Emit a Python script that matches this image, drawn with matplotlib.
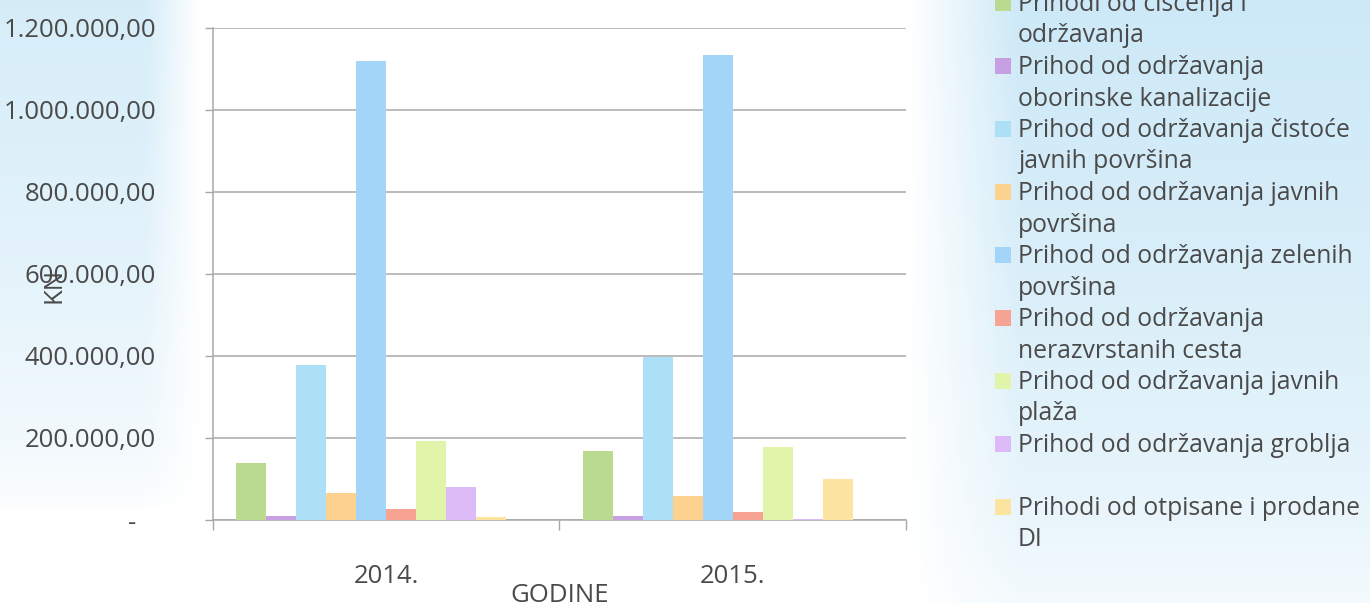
import numpy as np
import matplotlib.pyplot as plt
from matplotlib.patches import Rectangle
from matplotlib.ticker import FuncFormatter, FixedLocator

plt.rcParams['font.family'] = ['Open Sans', 'DejaVu Sans']

# data (kn)
years = ['2014.', '2015.']
series_names = [
    'Prihodi od čišćenja i\nodržavanja',
    'Prihod od održavanja\noborinske kanalizacije',
    'Prihod od održavanja čistoće\njavnih površina',
    'Prihod od održavanja javnih\npovršina',
    'Prihod od održavanja zelenih\npovršina',
    'Prihod od održavanja\nnerazvrstanih cesta',
    'Prihod od održavanja javnih\nplaža',
    'Prihod od održavanja groblja\n',
    'Prihodi od otpisane i prodane\nDI',
    '',
]
vals_2014 = [139000, 10000, 378000, 66000, 1120000, 27000, 193000, 80000, 7000, 0]
vals_2015 = [168000, 10000, 398000, 59000, 1134000, 20000, 178000, 2000, 100000, 0]
colors = ['#b9da8f', '#c7a0e3', '#ade0f7', '#fdd18e', '#a2d5f7',
          '#f6a393', '#e1f4a9', '#dcbaf6', '#fce3a0', '#ffffff']

W, H = 1370, 603
fig = plt.figure(figsize=(W / 100, H / 100), dpi=100)

# scanned page background: light blue washes left and right
bg = fig.add_axes([0, 0, 1, 1], zorder=-10)
gx, gy = np.meshgrid(np.linspace(0, 1, 274), np.linspace(0, 1, 121))
left = np.clip((0.145 - gx) / 0.04, 0, 1) * np.clip(1 - gy / 0.85, 0, 1) ** 0.6
right = np.clip((gx - 0.665) / 0.08, 0, 1) * np.clip(1 - gy / 1.05, 0, 1) ** 0.5
alpha = np.maximum(left * 0.7, right * 0.85)
img = np.ones((121, 274, 4))
img[..., 0] = 0.77
img[..., 1] = 0.90
img[..., 2] = 0.965
img[..., 3] = alpha
bg.imshow(img, aspect='auto', extent=[0, 1, 0, 1], interpolation='bilinear')
bg.set_xlim(0, 1)
bg.set_ylim(0, 1)
bg.axis('off')

ax = fig.add_axes([213 / W, (H - 520) / H, (906 - 213) / W, (520 - 28) / H])
ax.set_facecolor('white')

n = len(series_names)
width = 0.0866
x = np.arange(len(years))
for i in range(n):
    offs = (i - (n - 1) / 2) * width
    ax.bar(x + offs, [vals_2014[i], vals_2015[i]], width, color=colors[i],
           zorder=3, linewidth=0)

grid_c = '#a8a8a8'
txt_c = '#4a4a4a'
fs = 18.5
ax.set_ylim(0, 1200000)
ax.set_xlim(-0.5, 1.5)
ax.set_yticks(np.arange(0, 1200001, 200000))


def fmt(v, pos):
    if v == 0:
        return '-   '
    s = f'{v:,.2f}'
    return s.replace(',', ' ').replace('.', ',').replace(' ', '.')


ax.yaxis.set_major_formatter(FuncFormatter(fmt))
ax.yaxis.grid(True, color=grid_c, linewidth=1.1, zorder=0)
ax.tick_params(axis='y', length=6, width=1, color=grid_c, pad=35,
               labelsize=fs, labelcolor=txt_c)

ax.set_xticks(x)
ax.set_xticklabels(years)
ax.xaxis.set_minor_locator(FixedLocator([-0.5, 0.5, 1.5]))
ax.tick_params(axis='x', which='major', length=0, pad=32,
               labelsize=fs, labelcolor=txt_c)
ax.tick_params(axis='x', which='minor', length=7, width=1, color=grid_c)

for s in ['top', 'right']:
    ax.spines[s].set_visible(False)
for s in ['left', 'bottom']:
    ax.spines[s].set_color(grid_c)
    ax.spines[s].set_linewidth(1.1)

fig.text(560 / W, (H - 602) / H, 'GODINE', ha='center', va='baseline',
         fontsize=fs, color=txt_c)
fig.text(54 / W, (H - 285) / H, 'KN', rotation=90, ha='center', va='center',
         fontsize=fs, color=txt_c)

# legend, drawn line by line
lfs = 17.8
line = 0
for i, name in enumerate(series_names):
    if not name:
        continue
    base = 11 + 31.5 * line
    fig.add_artist(Rectangle((995 / W, (H - base) / H), 16 / W, 16 / H,
                             facecolor=colors[i], edgecolor='none',
                             transform=fig.transFigure))
    for part in name.split('\n'):
        fig.text(1018 / W, (H - 11 - 31.5 * line) / H, part, ha='left',
                 va='baseline', fontsize=lfs, color=txt_c)
        line += 1

fig.savefig('out.png', dpi=100)
